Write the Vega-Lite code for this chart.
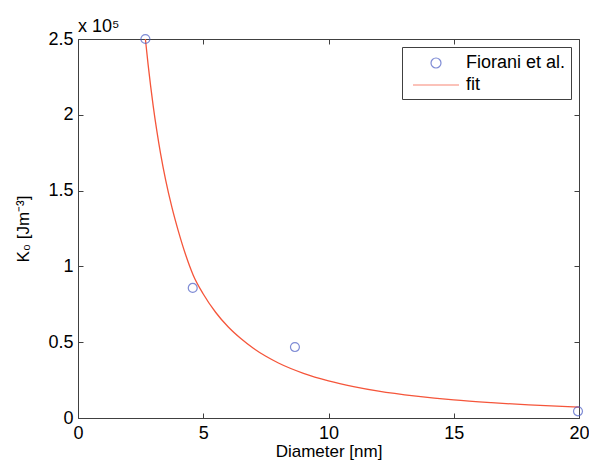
{
  "$schema": "https://vega.github.io/schema/vega-lite/v6.json",
  "width": 501,
  "height": 379,
  "autosize": "none",
  "padding": {"left": 78, "top": 39, "right": 10, "bottom": 45},
  "background": "white",
  "config": {
    "view": {"stroke": null},
    "font": "Liberation Sans",
    "axis": {
      "grid": false,
      "domainColor": "#404040",
      "tickColor": "#404040",
      "domainWidth": 1,
      "tickWidth": 1,
      "tickSize": -5,
      "labelFont": "Liberation Sans",
      "labelFontSize": 18,
      "labelColor": "black",
      "labelFlush": false,
      "labelOverlap": false,
      "titleFont": "Liberation Sans",
      "titleFontSize": 17,
      "titleFontWeight": "normal",
      "titleColor": "black"
    },
    "legend": {
      "orient": "top-right",
      "offset": 8,
      "fillColor": "white",
      "strokeColor": "#404040",
      "padding": 5,
      "labelFont": "Liberation Sans",
      "labelFontSize": 18,
      "labelColor": "black",
      "symbolSize": 400,
      "symbolStrokeWidth": 1.2,
      "rowPadding": 2,
      "labelOffset": 37,
      "labelLimit": 300
    }
  },
  "data": {
    "values": [
      {"series": "Fiorani et al.", "d": 2.69, "k": 250000},
      {"series": "Fiorani et al.", "d": 4.58, "k": 85800},
      {"series": "Fiorani et al.", "d": 8.66, "k": 46800},
      {"series": "Fiorani et al.", "d": 19.96, "k": 4400},
      {"series": "fit", "d": 2.69, "k": 250000},
      {"series": "fit", "d": 2.8, "k": 232900},
      {"series": "fit", "d": 2.9, "k": 218900},
      {"series": "fit", "d": 3.0, "k": 206100},
      {"series": "fit", "d": 3.15, "k": 189100},
      {"series": "fit", "d": 3.3, "k": 174100},
      {"series": "fit", "d": 3.5, "k": 156900},
      {"series": "fit", "d": 3.75, "k": 138900},
      {"series": "fit", "d": 4.0, "k": 123600},
      {"series": "fit", "d": 4.3, "k": 107500},
      {"series": "fit", "d": 4.6, "k": 94200},
      {"series": "fit", "d": 5.0, "k": 81800},
      {"series": "fit", "d": 5.5, "k": 69600},
      {"series": "fit", "d": 6.0, "k": 60000},
      {"series": "fit", "d": 6.5, "k": 52400},
      {"series": "fit", "d": 7.0, "k": 46000},
      {"series": "fit", "d": 7.5, "k": 40700},
      {"series": "fit", "d": 8.0, "k": 36300},
      {"series": "fit", "d": 9.0, "k": 29500},
      {"series": "fit", "d": 10.0, "k": 24500},
      {"series": "fit", "d": 11.0, "k": 20700},
      {"series": "fit", "d": 12.0, "k": 17700},
      {"series": "fit", "d": 13.5, "k": 14400},
      {"series": "fit", "d": 15.0, "k": 11900},
      {"series": "fit", "d": 16.5, "k": 10100},
      {"series": "fit", "d": 18.0, "k": 8640},
      {"series": "fit", "d": 20.0, "k": 7170}
    ]
  },
  "layer": [
    {
      "transform": [{"filter": "datum.series === 'fit'"}],
      "mark": {"type": "line", "strokeWidth": 1.3, "interpolate": "monotone", "color": "#f5553a"},
      "encoding": {
        "x": {
          "field": "d", "type": "quantitative",
          "scale": {"domain": [0, 20], "nice": false, "zero": false},
          "axis": {"orient": "bottom", "values": [0, 5, 10, 15, 20], "title": "Diameter [nm]", "labelPadding": 11, "titlePadding": 1}
        },
        "y": {
          "field": "k", "type": "quantitative",
          "scale": {"domain": [0, 250000], "nice": false},
          "axis": {"orient": "left", "values": [0, 50000, 100000, 150000, 200000, 250000], "labelExpr": "format(datum.value / 100000, '~g')", "title": "K₀ [Jm⁻³]", "labelPadding": 10, "titlePadding": 15}
        }
      }
    },
    {
      "transform": [{"filter": "datum.series === 'Fiorani et al.'"}],
      "mark": {"type": "point", "shape": "circle", "filled": false, "size": 80, "strokeWidth": 1.2, "color": "#4a5cc4"},
      "encoding": {
        "x": {"field": "d", "type": "quantitative", "axis": null},
        "y": {"field": "k", "type": "quantitative", "axis": null}
      }
    },
    {
      "data": {"values": [{}]},
      "mark": {"type": "text", "align": "left", "baseline": "alphabetic", "dy": -7, "fontSize": 18, "font": "Liberation Sans", "color": "black", "text": "x 10⁵"},
      "encoding": {
        "x": {"datum": 0, "type": "quantitative", "axis": null},
        "y": {"datum": 250000, "type": "quantitative", "axis": null}
      }
    },
    {
      "data": {"values": []},
      "mark": {"type": "point", "filled": false, "strokeWidth": 1.2},
      "encoding": {
        "x": {"field": "d", "type": "quantitative", "axis": null},
        "y": {"field": "k", "type": "quantitative", "axis": null},
        "color": {
          "field": "series", "type": "nominal",
          "scale": {"domain": ["Fiorani et al.", "fit"], "range": ["#4a5cc4", "#f5553a"]},
          "legend": {"title": null}
        },
        "shape": {
          "field": "series", "type": "nominal",
          "scale": {"domain": ["Fiorani et al.", "fit"], "range": ["M1.3,0A0.5,0.5,0,1,1,2.3,0A0.5,0.5,0,1,1,1.3,0Z", "M-0.5,0L4.1,0"]},
          "legend": {"title": null}
        }
      }
    },
    {
      "transform": [{"filter": "datum.series === 'Fiorani et al.'"}],
      "mark": {"type": "point", "opacity": 0},
      "encoding": {
        "x": {"field": "d", "type": "quantitative", "axis": {"orient": "top", "values": [0, 5, 10, 15, 20], "labels": false, "title": null}},
        "y": {"field": "k", "type": "quantitative", "axis": {"orient": "right", "values": [0, 50000, 100000, 150000, 200000, 250000], "labels": false, "title": null}}
      }
    }
  ],
  "resolve": {"axis": {"x": "independent", "y": "independent"}}
}
